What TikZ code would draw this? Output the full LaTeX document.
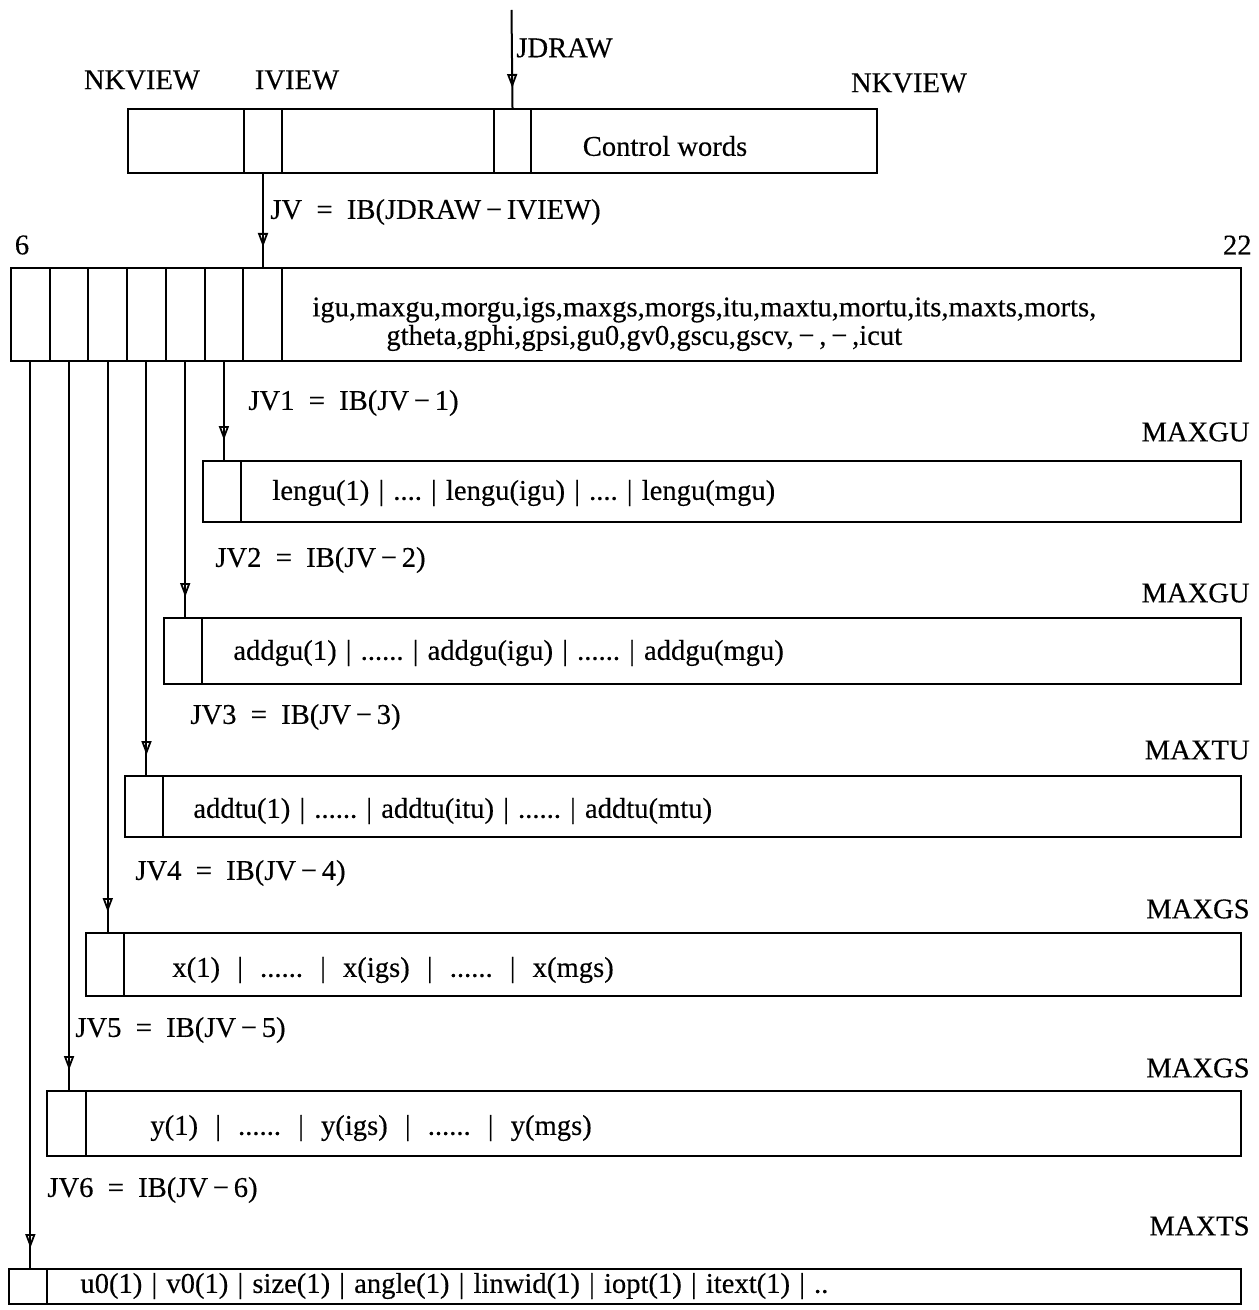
\documentclass[tikz,border=0pt]{standalone}
\usepackage{fontspec}
\setmainfont{Liberation Serif}
\newfontfamily\diagfont{Liberation Serif}[FakeBold=0.3]
\usetikzlibrary{arrows.meta,decorations.markings}
\newcommand{\psep}{\hspace{0.32em}|\hspace{0.32em}}
\newcommand{\wsep}{\hspace{0.6em}|\hspace{0.6em}}
\begin{document}
\begin{tikzpicture}[x=0.5pt,y=-0.5pt,
  every node/.style={font=\diagfont\fontsize{14.3}{14.3}\selectfont, inner sep=0pt},
  box/.style={draw, line width=1pt, anchor=north west, inner sep=0pt},
  lbl/.style={anchor=west},
  rlbl/.style={anchor=east},
  ptr/.style={line width=1pt,
    decoration={markings, mark=at position -10pt with {\arrow{Triangle[open, width=5pt, length=7pt, line width=0.9pt]}}},
    postaction={decorate}}
]
\useasboundingbox (0,0) rectangle (1258,1310);

% ---- top control-word record
\node[box, minimum width=374.5pt, minimum height=32pt] (A) at (127,108) {};
\node[box, minimum width=19pt, minimum height=32pt] (icell) at (243,108) {};
\node[box, minimum width=18.5pt, minimum height=32pt] (jcell) at (493,108) {};
\node (cw) at (665,146) {Control words};
\node (nk1) at (142,80) {NKVIEW};
\node (iv) at (297,80) {IVIEW};
\node (nk2) at (909,83) {NKVIEW};
\node[lbl] (jd) at (516,48) {JDRAW};
\coordinate (jtop) at (511.5,10);
\draw[ptr] (jtop) -- (jcell.north);

% ---- main record
\node[box, minimum width=615pt, minimum height=46.5pt] (B) at (10,267) {};
\foreach \i in {1,...,7}
  \node[box, minimum width=19.36pt, minimum height=46.5pt] (c\i) at ({10+38.71*(\i-1)},267) {};
\node (six) at (22,245) {6};
\node[rlbl] (tt) at (1252,245) {22};
\node[lbl] (bt1) at (312,310) {igu,maxgu,morgu,igs,maxgs,morgs,itu,maxtu,mortu,its,maxts,morts,};
\node[lbl] (bt2) at (386,338) {gtheta,gphi,gpsi,gu0,gv0,gscu,gscv,\,−\,,\,−\,,icut};
\draw[ptr] (icell.south) -- (icell.south |- c7.north);
\node[lbl] (ljv) at (270,212) {JV\enspace=\enspace IB(JDRAW\,−\,IVIEW)};

% ---- sub records
\node[box, minimum width=519pt, minimum height=30.5pt] (C1) at (202,460) {};
\node[box, minimum width=19pt, minimum height=30.5pt] (d1) at (202,460) {};
\node[lbl] (t1) at (272,493) {lengu(1)\psep....\psep lengu(igu)\psep....\psep lengu(mgu)};
\node[rlbl] (m1) at (1250,432) {MAXGU};
\node[lbl] (l1) at (248,403) {JV1\enspace=\enspace IB(JV\,−\,1)};

\node[box, minimum width=538.5pt, minimum height=33pt] (C2) at (163,617) {};
\node[box, minimum width=19pt, minimum height=33pt] (d2) at (163,617) {};
\node[lbl] (t2) at (233,653) {addgu(1)\psep......\psep addgu(igu)\psep......\psep addgu(mgu)};
\node[rlbl] (m2) at (1250,593) {MAXGU};
\node[lbl] (l2) at (215,560) {JV2\enspace=\enspace IB(JV\,−\,2)};

\node[box, minimum width=558pt, minimum height=30.5pt] (C3) at (124,775) {};
\node[box, minimum width=19pt, minimum height=30.5pt] (d3) at (124,775) {};
\node[lbl] (t3) at (193,811) {addtu(1)\psep......\psep addtu(itu)\psep......\psep addtu(mtu)};
\node[rlbl] (m3) at (1250,750) {MAXTU};
\node[lbl] (l3) at (190,717) {JV3\enspace=\enspace IB(JV\,−\,3)};

\node[box, minimum width=577.5pt, minimum height=31.5pt] (C4) at (85,932) {};
\node[box, minimum width=19pt, minimum height=31.5pt] (d4) at (85,932) {};
\node[lbl] (t4) at (172,970) {x(1)\wsep......\wsep x(igs)\wsep......\wsep x(mgs)};
\node[rlbl] (m4) at (1250,909) {MAXGS};
\node[lbl] (l4) at (135,873) {JV4\enspace=\enspace IB(JV\,−\,4)};

\node[box, minimum width=597pt, minimum height=32.5pt] (C5) at (46,1090) {};
\node[box, minimum width=19.5pt, minimum height=32.5pt] (d5) at (46,1090) {};
\node[lbl] (t5) at (150,1128) {y(1)\wsep......\wsep y(igs)\wsep......\wsep y(mgs)};
\node[rlbl] (m5) at (1250,1068) {MAXGS};
\node[lbl] (l5) at (75,1030) {JV5\enspace=\enspace IB(JV\,−\,5)};

\node[box, minimum width=616pt, minimum height=17.5pt] (C6) at (8,1268) {};
\node[box, minimum width=19pt, minimum height=17.5pt] (d6) at (8,1268) {};
\node[lbl] (t6) at (80,1286) {u0(1)\psep v0(1)\psep size(1)\psep angle(1)\psep linwid(1)\psep iopt(1)\psep itext(1)\psep ..};
\node[rlbl] (m6) at (1250,1226) {MAXTS};
\node[lbl] (l6) at (47,1190) {JV6\enspace=\enspace IB(JV\,−\,6)};

% ---- pointers from the main record
\draw[ptr] (c6.south) -- (c6.south |- d1.north);
\draw[ptr] (c5.south) -- (c5.south |- d2.north);
\draw[ptr] (c4.south) -- (c4.south |- d3.north);
\draw[ptr] (c3.south) -- (c3.south |- d4.north);
\draw[ptr] (c2.south) -- (c2.south |- d5.north);
\draw[ptr] (c1.south) -- (c1.south |- d6.north);
\end{tikzpicture}
\end{document}
